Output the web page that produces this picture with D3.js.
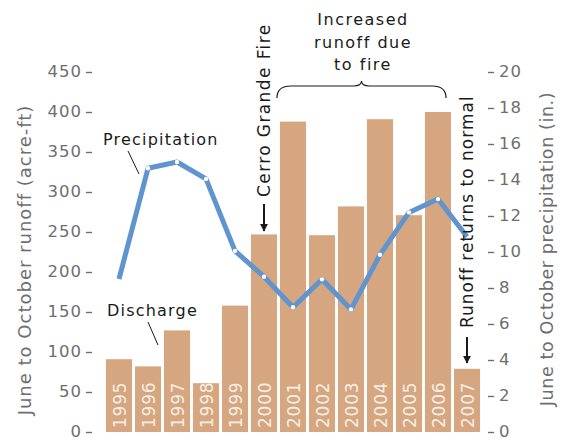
<!DOCTYPE html>
<html>
<head>
<meta charset="utf-8">
<script src="https://cdn.jsdelivr.net/npm/d3@7"></script>
<style>
  body { margin: 0; background: #fff; }
  svg text { font-family: "DejaVu Sans", Verdana, sans-serif; }
</style>
</head>
<body>
<div id="wrapper"></div>
<script>
const years = ["1995", "1996", "1997", "1998", "1999", "2000", "2001",
    "2002", "2003", "2004", "2005", "2006", "2007"]
const discharge = [91, 82, 127, 61, 158, 247, 388, 246, 282, 391, 271, 400, 79]
const precipitation = [8.5, 14.65, 15.0, 14.06, 10.06, 8.63, 6.93, 8.48, 6.81, 9.85, 12.2, 12.94, 10.85]
const runoffTicks = [0, 50, 100, 150, 200, 250, 300, 350, 400, 450]
const precipTicks = [0, 2, 4, 6, 8, 10, 12, 14, 16, 18, 20]

function drawChart() {
    let dimensions = {
        width: 562,
        height: 440,
        left: 92,
        right: 488,
        top: 72,
        bottom: 432,
    }

    const svg = d3.select("#wrapper")
        .append("svg")
        .attr("width", dimensions.width)
        .attr("height", dimensions.height)

    const xScale = d3.scaleBand()
        .domain(years)
        .range([104.5, 481.5])
        .paddingInner(0.1)
        .paddingOuter(0.05)

    const yRunoff = d3.scaleLinear()
        .domain([0, 450])
        .range([dimensions.bottom, dimensions.top])

    const yPrecip = d3.scaleLinear()
        .domain([0, 20])
        .range([dimensions.bottom, dimensions.top])

    const barColor = "#d5a67f"
    const lineColor = "#6094cf"
    const gray = "#6e6e6e"

    // bars
    svg.append("g")
        .selectAll("rect")
        .data(years)
        .join("rect")
        .attr("x", d => xScale(d))
        .attr("y", (d, i) => yRunoff(discharge[i]))
        .attr("width", xScale.bandwidth())
        .attr("height", (d, i) => yRunoff(0) - yRunoff(discharge[i]))
        .attr("fill", barColor)

    // year labels inside bars
    svg.append("g")
        .selectAll("text")
        .data(years)
        .join("text")
        .attr("transform", d => `translate(${xScale(d) + xScale.bandwidth() / 2 + 6.5},${dimensions.bottom - 4}) rotate(-90)`)
        .attr("fill", "#f7efe7")
        .style("font-size", "17px")
        .style("letter-spacing", "0.8px")
        .text(d => d)

    // precipitation line
    const line = d3.line()
        .x((d, i) => xScale(years[i]) + xScale.bandwidth() / 2)
        .y(d => yPrecip(d))

    svg.append("path")
        .datum(precipitation)
        .attr("d", line)
        .attr("fill", "none")
        .attr("stroke", lineColor)
        .attr("stroke-width", 5)
        .attr("stroke-linejoin", "round")

    svg.append("g")
        .selectAll("circle")
        .data(precipitation.slice(1, -1))
        .join("circle")
        .attr("cx", (d, i) => xScale(years[i + 1]) + xScale.bandwidth() / 2)
        .attr("cy", d => yPrecip(d))
        .attr("r", 2.2)
        .attr("fill", "#fff")

    // axes
    const leftAxis = svg.append("g")
        .attr("transform", `translate(${dimensions.left},0)`)
        .call(d3.axisLeft(yRunoff).tickValues(runoffTicks).tickSize(6).tickPadding(4))
    leftAxis.select(".domain").remove()

    const rightAxis = svg.append("g")
        .attr("transform", `translate(${dimensions.right},0)`)
        .call(d3.axisRight(yPrecip).tickValues(precipTicks).tickSize(6).tickPadding(5))
    rightAxis.select(".domain").remove()

    svg.selectAll(".tick line")
        .attr("stroke", gray)
        .attr("stroke-width", 1.4)
    svg.selectAll(".tick text")
        .attr("fill", gray)
        .attr("dy", "0.3em")
        .style("font-size", "16.5px")
        .style("letter-spacing", "1px")
        .style("font-family", "'DejaVu Sans', sans-serif")

    // axis titles
    svg.append("text")
        .attr("transform", `translate(31,${(dimensions.top + dimensions.bottom) / 2 + 8}) rotate(-90)`)
        .attr("text-anchor", "middle")
        .attr("fill", gray)
        .style("font-size", "18px")
        .style("letter-spacing", "1px")
        .text("June to October runoff (acre-ft)")

    svg.append("text")
        .attr("transform", `translate(553,249) rotate(-90)`)
        .attr("text-anchor", "middle")
        .attr("fill", gray)
        .style("font-size", "17.5px")
        .style("letter-spacing", "0.6px")
        .text("June to October precipitation (in.)")

    // annotations
    const ink = "#1a1a1a"
    const spacing = "1.2px"

    svg.append("text")
        .attr("x", 103)
        .attr("y", 145)
        .attr("fill", ink)
        .style("font-size", "16px")
        .style("letter-spacing", spacing)
        .text("Precipitation")
    svg.append("line")
        .attr("x1", 128).attr("y1", 151)
        .attr("x2", 139).attr("y2", 174)
        .attr("stroke", ink).attr("stroke-width", 1)

    svg.append("text")
        .attr("x", 107)
        .attr("y", 316)
        .attr("fill", ink)
        .style("font-size", "16px")
        .style("letter-spacing", spacing)
        .text("Discharge")
    svg.append("line")
        .attr("x1", 148).attr("y1", 322)
        .attr("x2", 158).attr("y2", 345)
        .attr("stroke", ink).attr("stroke-width", 1)

    svg.append("defs").append("marker")
        .attr("id", "arrow")
        .attr("viewBox", "0 0 10 10")
        .attr("refX", 9).attr("refY", 5)
        .attr("markerWidth", 4).attr("markerHeight", 4)
        .attr("orient", "auto")
        .append("path")
        .attr("d", "M0,0 L10,5 L0,10 Z")
        .attr("fill", ink)

    const fireX = xScale("2000") + xScale.bandwidth() / 2
    svg.append("text")
        .attr("transform", `translate(${fireX + 6},197) rotate(-90)`)
        .attr("fill", ink)
        .style("font-size", "17px")
        .style("letter-spacing", "1.4px")
        .text("Cerro Grande Fire")
    svg.append("line")
        .attr("x1", fireX).attr("y1", 204)
        .attr("x2", fireX).attr("y2", 231)
        .attr("stroke", ink).attr("stroke-width", 2)
        .attr("marker-end", "url(#arrow)")

    const normX = xScale("2007") + xScale.bandwidth() / 2
    svg.append("text")
        .attr("transform", `translate(${normX + 6},328) rotate(-90)`)
        .attr("fill", ink)
        .style("font-size", "17px")
        .style("letter-spacing", "1px")
        .text("Runoff returns to normal")
    svg.append("line")
        .attr("x1", normX).attr("y1", 337)
        .attr("x2", normX).attr("y2", 363)
        .attr("stroke", ink).attr("stroke-width", 2)
        .attr("marker-end", "url(#arrow)")

    const fireLines = ["Increased", "runoff due", "to fire"]
    svg.append("text")
        .attr("fill", ink)
        .attr("text-anchor", "middle")
        .style("font-size", "16px")
        .style("letter-spacing", "1.5px")
        .selectAll("tspan")
        .data(fireLines)
        .join("tspan")
        .attr("x", 363)
        .attr("y", (d, i) => 25 + i * 22.5)
        .text(d => d)

    // brace over 2001-2006
    const bx0 = xScale("2001") - 3, bx1 = xScale("2006") + xScale.bandwidth() - 5
    const bm = (bx0 + bx1) / 2
    svg.append("path")
        .attr("d", `M${bx0},98 Q${bx0},86 ${bx0 + 14},86 L${bm - 8},86 Q${bm},86 ${bm},81
                    Q${bm},86 ${bm + 8},86 L${bx1 - 14},86 Q${bx1},86 ${bx1},98`)
        .attr("fill", "none")
        .attr("stroke", ink)
        .attr("stroke-width", 1.2)
}

drawChart()
</script>
</body>
</html>
